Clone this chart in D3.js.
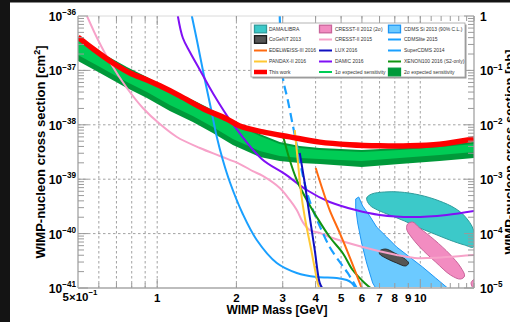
<!DOCTYPE html>
<html><head><meta charset="utf-8">
<script src="https://cdn.jsdelivr.net/npm/d3@7"></script>
<style>html,body{margin:0;padding:0;background:#fff;overflow:hidden}</style>
</head><body>
<svg id="c" width="510" height="322"></svg>
<script>
// ---------- DATA (mass in GeV, cross section in cm^2) ----------
const thisWorkMass = [0.50,0.570,0.679,0.788,0.914,1.024,1.219,1.491,1.839,2.061,2.519,3.190,4.146,5.391,7.006,9.108,11.84,16];
const thisWorkXsec = [4.1e-37,2.5e-37,1.37e-37,8.95e-38,6.67e-38,5.2e-38,3.4e-38,2.0e-38,1.28e-38,9.5e-39,7.4e-39,6.0e-39,4.8e-39,4.3e-39,4.1e-39,4.1e-39,4.4e-39,5.5e-39];

const bandMass = [0.5,0.606,0.767,0.914,1.117,1.366,1.627,1.939,2.454,2.923,3.482,4.146,5.985,8.345,11.84,16];
const band2Hi = [3.78e-37,2.18e-37,1.15e-37,7.56e-38,4.55e-38,2.86e-38,1.87e-38,1.17e-38,6.77e-39,4.83e-39,4.08e-39,3.75e-39,3.44e-39,3.75e-39,4.25e-39,4.83e-39];
const band1Hi = [3.47e-37,2.00e-37,1.06e-37,6.95e-38,4.18e-38,2.62e-38,1.72e-38,1.08e-38,6.22e-39,4.44e-39,3.75e-39,3.44e-39,3.16e-39,3.44e-39,3.91e-39,4.44e-39];
const band1Lo = [1.92e-37,1.15e-37,6.12e-38,4.01e-38,2.31e-38,1.45e-38,9.11e-39,5.48e-39,3.30e-39,2.67e-39,2.45e-39,2.35e-39,2.16e-39,2.45e-39,2.79e-39,3.16e-39];
const band2Lo = [1.49e-37,8.96e-38,4.75e-38,3.11e-38,1.79e-38,1.13e-38,7.07e-39,4.25e-39,2.56e-39,2.16e-39,1.99e-39,1.90e-39,1.68e-39,1.90e-39,2.16e-39,2.45e-39];

const cresst15Mass = [0.541,0.596,0.661,0.767,0.882,1.024,1.188,1.453,1.730,2.061,2.308,2.519,2.923,3.190,3.392,3.574,3.800,4.146,4.524,6.038,8.131,9.515,10.85,16];
const cresst15Xsec = [1e-36,3.62e-37,1.43e-37,4.75e-38,2.04e-38,1.03e-38,5.97e-39,3.75e-39,2.67e-39,1.90e-39,1.41e-39,1.15e-39,6.89e-40,4.15e-40,2.71e-40,1.63e-40,1.16e-40,1.03e-40,8.66e-41,5.67e-41,4.04e-41,3.56e-41,3.56e-41,4.04e-41];

const cdmsliteMass = [1.354,1.415,1.504,1.599,1.685,1.776,1.888,2.115,2.390,2.848,3.392,4.039,4.811,5.252,5.487,5.682];
const cdmsliteXsec = [1e-36,3.62e-37,8.23e-38,2.04e-38,5.97e-39,2.25e-39,8.88e-40,2.29e-40,7.63e-41,2.88e-41,1.89e-41,1.59e-41,1.53e-41,1.40e-41,1.24e-41,1e-41];

const superCdmsMass = [2.923,3.001,3.135,3.275,3.421,3.574,3.734,3.935,4.146,4.524,4.939,5.297,5.732];
const superCdmsXsec = [1e-36,7.56e-38,2.86e-38,9.92e-39,3.44e-39,1.195e-39,5.13e-40,2.49e-40,1.38e-40,5.67e-41,3.01e-41,1.89e-41,1e-41];

const damicMass = [1.198,1.252,1.331,1.453,1.627,1.939,2.497,3.053,3.701,4.524,5.682,7.006,9.350,12.59,16];
const damicXsec = [1e-36,3.94e-37,2.18e-37,1.02e-37,3.84e-38,1.03e-38,2.35e-39,1.25e-39,6.33e-40,3.81e-40,2.71e-40,2.20e-40,2.02e-40,2.20e-40,2.60e-40];

const luxMass = [3.482,3.637,3.800,3.970,4.146,4.239];
const luxXsec = [3.03e-39,8.51e-40,2.02e-40,4.99e-41,1.24e-41,1e-41];

const pandaxMass = [3.333,3.421,3.512,3.637,3.850,4.074,4.128];
const pandaxXsec = [8.02e-39,2.25e-39,6.33e-40,2.02e-40,4.99e-41,1.24e-41,1e-41];

const xenonMass = [3.001,3.190,3.392,3.701,4.039,4.524,5.070,5.534,6.144,6.477];
const xenonXsec = [6.49e-39,2.25e-39,9.67e-40,4.15e-40,2.02e-40,8.66e-41,4.40e-41,2.14e-41,1.24e-41,1e-41];

const edelweissMass = [4.004,4.257,4.524,4.939,5.391,5.884,5.985];
const edelweissXsec = [1.61e-39,6.33e-40,2.71e-40,1.03e-40,3.71e-41,1.24e-41,1e-41];

const damaMass = [6.254,6.534,7.318,8.345,9.938,11.84,13.50,14.73,15.94,15.94,14.73,12.92,11.33,9.938,8.717,7.646,6.885,6.421];
const damaXsec = [4.51e-40,5.34e-40,5.82e-40,5.82e-40,5.13e-40,3.97e-40,2.95e-40,2.11e-40,1.16e-40,5.67e-41,6.17e-41,7.63e-41,9.83e-41,1.27e-40,1.70e-40,2.20e-40,2.71e-40,3.35e-40];

const cdmsSiMass = [5.682,5.833,6.038,6.421,6.824,7.450,8.131,9.108,10.20,11.43,12.70,6.765,6.591,6.254,5.985,5.781,5.682];
const cdmsSiXsec = [4.33e-40,4.71e-40,3.22e-40,2.11e-40,1.32e-40,8.66e-41,5.67e-41,3.71e-41,2.43e-41,1.53e-41,1e-41,1e-41,1.24e-41,2.88e-41,6.72e-41,1.57e-40,2.95e-40];

const cresst12Mass = [8.950,9.350,9.938,11.33,12.92,14.22,14.73,14.22,13.03,11.43,10.03,9.188,8.872];
const cresst12Xsec = [1.50e-40,1.63e-40,1.27e-40,7.63e-41,4.22e-41,2.43e-41,1.66e-41,1.46e-41,1.73e-41,3.01e-41,5.44e-41,9.03e-41,1.22e-40];
const cresst12bMass = [15.6,16.4,18.0,16.4];
const cresst12bXsec = [1.25e-41,1.5e-41,1.1e-41,0.85e-41];

const cogentMass = [7.006,7.385,7.989,8.643,9.029,8.796,8.131,7.385,7.006];
const cogentXsec = [4.79e-41,5.21e-41,4.40e-41,3.56e-41,2.88e-41,2.54e-41,2.88e-41,3.56e-41,4.22e-41];

// ticks / labels
const xGrid = [0.6,0.7,0.8,0.9,1,2,3,4,5,6,7,8,9,10];
const xMinor = [0.6,0.7,0.8,0.9,2,3,4,5,6,7,8,9,11,12,13,14,15,16];
const xMajor = [1,10];
const xTickVals = [0.5,1,2,3,4,5,6,7,8,9,10];
const xTickLabels = ["5×10^−1","1","2","3","4","5","6","7","8","9","10"];
const yTickVals = [1e-36,1e-37,1e-38,1e-39,1e-40,1e-41];
const yTickLabels = ["10^−36","10^−37","10^−38","10^−39","10^−40","10^−41"];
const y2TickLabels = ["1","10^−1","10^−2","10^−3","10^−4","10^−5"];
const yGrid = [1e-37,1e-38,1e-39,1e-40];
const legendCols = [
  ["DAMA/LIBRA","CoGeNT 2013","EDELWEISS-III 2016","PANDAX-II 2016","This work"],
  ["CRESST-II 2012 (2σ)","CRESST-II 2015","LUX 2016","DAMIC 2016","1σ expected sensitivity"],
  ["CDMS Si 2013 (90% C.L.)","CDMSlite 2015","SuperCDMS 2014","XENON100 2016 (S2-only)","2σ expected sensitivity"]
];

// ---------- STYLES ----------
const C = {
  dama:"#3cc9c9", damaE:"#2f9c9c", cogent:"#555555", cogentE:"#1a1a1a",
  edel:"#ff6a10", pandax:"#ffc833", red:"#ff0000",
  cr12:"#f28cc1", cr12E:"#c9649a", cr15:"#f7a2c9", lux:"#1010c0", damic:"#8010f5",
  s1:"#00cc55", s2:"#00993a", cdmsSi:"#6ccaff", cdmsSiE:"#1e96f5", blue:"#1aa0ff", xenon:"#119411"
};
const legendStyle = {
  "DAMA/LIBRA":{t:"box",f:C.dama,s:C.damaE},
  "CoGeNT 2013":{t:"box",f:C.cogent,s:C.cogentE},
  "EDELWEISS-III 2016":{t:"line",s:C.edel,w:2},
  "PANDAX-II 2016":{t:"line",s:C.pandax,w:2},
  "This work":{t:"line",s:C.red,w:4.5},
  "CRESST-II 2012 (2σ)":{t:"box",f:C.cr12,s:C.cr12E},
  "CRESST-II 2015":{t:"line",s:C.cr15,w:2},
  "LUX 2016":{t:"line",s:C.lux,w:2},
  "DAMIC 2016":{t:"line",s:C.damic,w:2},
  "1σ expected sensitivity":{t:"line",s:C.s1,w:2},
  "CDMS Si 2013 (90% C.L.)":{t:"box",f:C.cdmsSi,s:C.cdmsSiE},
  "CDMSlite 2015":{t:"line",s:C.blue,w:2},
  "SuperCDMS 2014":{t:"line",s:C.blue,w:2},
  "XENON100 2016 (S2-only)":{t:"line",s:C.xenon,w:2},
  "2σ expected sensitivity":{t:"box",f:C.s2,s:C.s2}
};

const FONT = "'Liberation Sans', Arial, Helvetica, sans-serif";
const W=510,H=322, L=78,R=474,T=16,B=288;
const svg=d3.select('#c').attr('font-family',FONT);
const x=d3.scaleLog().domain([0.5,16]).range([L,R]);
const y=d3.scaleLog().domain([1e-41,1e-36]).range([B,T]);
const zip=(a,b)=>a.map((v,i)=>[v,b[i]]);

svg.append('rect').attr('width',W).attr('height',H).attr('fill','#fff');
svg.append('rect').attr('x',0).attr('y',0).attr('width',10).attr('height',H).attr('fill','#141414');
svg.append('rect').attr('x',0).attr('y',0).attr('width',W).attr('height',2.5).attr('fill','#141414');

svg.append('defs').append('clipPath').attr('id','clip').append('rect')
  .attr('x',L).attr('y',T).attr('width',R-L).attr('height',B-T);

// grid
const grid=svg.append('g').attr('stroke','#8a8a8a').attr('stroke-width',0.8).attr('stroke-dasharray','2.5,2.5');
xGrid.forEach(v=>grid.append('line').attr('x1',x(v)).attr('x2',x(v)).attr('y1',T).attr('y2',B));
yGrid.forEach(v=>grid.append('line').attr('y1',y(v)).attr('y2',y(v)).attr('x1',L).attr('x2',R));

const plot=svg.append('g').attr('clip-path','url(#clip)');

// bands
const area=(hi,lo)=>d3.area().x((d,i)=>x(bandMass[i])).y0((d,i)=>y(lo[i])).y1((d,i)=>y(hi[i]))(bandMass);
plot.append('path').attr('d',area(band2Hi,band2Lo)).attr('fill',C.s2);
plot.append('path').attr('d',area(band1Hi,band1Lo)).attr('fill',C.s1);

// regions
const poly=(m,s,curve)=>d3.line().x(d=>x(d[0])).y(d=>y(d[1])).curve(curve)(zip(m,s));
plot.append('path').attr('d',poly(damaMass,damaXsec,d3.curveCatmullRomClosed.alpha(0.5))).attr('fill',C.dama).attr('stroke',C.damaE).attr('stroke-width',1);
plot.append('path').attr('d',poly(cdmsSiMass,cdmsSiXsec,d3.curveLinearClosed)).attr('fill',C.cdmsSi).attr('stroke',C.cdmsSiE).attr('stroke-width',1);
plot.append('path').attr('d',poly(cresst12Mass,cresst12Xsec,d3.curveCatmullRomClosed.alpha(0.5))).attr('fill',C.cr12).attr('stroke',C.cr12E).attr('stroke-width',1);
plot.append('path').attr('d',poly(cresst12bMass,cresst12bXsec,d3.curveCatmullRomClosed.alpha(0.5))).attr('fill',C.cr12).attr('stroke',C.cr12E).attr('stroke-width',1);
plot.append('path').attr('d',poly(cogentMass,cogentXsec,d3.curveCatmullRomClosed.alpha(0.5))).attr('fill',C.cogent).attr('stroke',C.cogentE).attr('stroke-width',0.8);

// lines
const line=d3.line().x(d=>x(d[0])).y(d=>y(d[1])).curve(d3.curveCatmullRom.alpha(0.5));
function drawLine(m,s,color,w,dash){
  const p=plot.append('path').attr('d',line(zip(m,s))).attr('fill','none').attr('stroke',color).attr('stroke-width',w).attr('stroke-linejoin','round');
  if(dash) p.attr('stroke-dasharray',dash);
}
drawLine(cresst15Mass,cresst15Xsec,C.cr15,2);
drawLine(cdmsliteMass,cdmsliteXsec,C.blue,2);
drawLine(superCdmsMass,superCdmsXsec,C.blue,2.2,'9,5');
drawLine(damicMass,damicXsec,C.damic,2);
drawLine(xenonMass,xenonXsec,C.xenon,2);
drawLine(edelweissMass,edelweissXsec,C.edel,2);
drawLine(pandaxMass,pandaxXsec,C.pandax,2);
drawLine(luxMass,luxXsec,C.lux,2);
drawLine(thisWorkMass,thisWorkXsec,C.red,5.5);

// frame + ticks
const ax=svg.append('g').attr('stroke','#9a9a9a').attr('fill','none');
ax.append('line').attr('x1',L).attr('x2',L).attr('y1',T).attr('y2',B).attr('stroke-width',1.2);
ax.append('line').attr('x1',R).attr('x2',R).attr('y1',T).attr('y2',B).attr('stroke-width',1.2);
ax.append('line').attr('x1',L).attr('x2',R).attr('y1',B).attr('y2',B).attr('stroke-width',2).attr('stroke','#bdbdbd');
ax.append('line').attr('x1',L).attr('x2',R).attr('y1',T).attr('y2',T).attr('stroke-width',0.8).attr('stroke','#d0d0d0');
const yMinorVals=[];
yTickVals.slice(1).forEach(v=>{for(let k=2;k<=9;k++) yMinorVals.push(v*k);});
yTickVals.forEach(v=>{
  ax.append('line').attr('x1',L).attr('x2',L+10).attr('y1',y(v)).attr('y2',y(v));
  ax.append('line').attr('x1',R).attr('x2',R-10).attr('y1',y(v)).attr('y2',y(v));
});
yMinorVals.forEach(v=>{
  ax.append('line').attr('x1',L).attr('x2',L+6).attr('y1',y(v)).attr('y2',y(v));
  ax.append('line').attr('x1',R).attr('x2',R-6).attr('y1',y(v)).attr('y2',y(v));
});
xMinor.forEach(v=>{
  ax.append('line').attr('x1',x(v)).attr('x2',x(v)).attr('y1',B).attr('y2',B-5);
  ax.append('line').attr('x1',x(v)).attr('x2',x(v)).attr('y1',T).attr('y2',T+5);
});
xMajor.forEach(v=>{
  ax.append('line').attr('x1',x(v)).attr('x2',x(v)).attr('y1',B).attr('y2',B-9);
  ax.append('line').attr('x1',x(v)).attr('x2',x(v)).attr('y1',T).attr('y2',T+9);
});

// text helpers
function sup(t,label,fs){
  const parts=label.split('^');
  t.append('tspan').text(parts[0]);
  if(parts[1]) t.append('tspan').attr('font-size',fs*0.68).attr('dy',-fs*0.48).text(parts[1]);
}
const lab=svg.append('g').attr('font-weight','bold').attr('fill','#000');
yTickVals.forEach((v,i)=>{
  const t=lab.append('text').attr('x',L-2).attr('y',y(v)+5).attr('text-anchor','end').attr('font-size',12);
  sup(t,yTickLabels[i],12);
  const t2=lab.append('text').attr('x',R+6).attr('y',y(v)+5).attr('text-anchor','start').attr('font-size',12);
  sup(t2,y2TickLabels[i],12);
});
xTickVals.forEach((v,i)=>{
  const t=lab.append('text').attr('x',x(v)+(i===0?2:0)).attr('y',i===0?301:302).attr('text-anchor','middle').attr('font-size',11.5);
  sup(t,xTickLabels[i],11.5);
});
lab.append('text').attr('x',277).attr('y',314).attr('text-anchor','middle').attr('font-size',12).text('WIMP Mass [GeV]');
lab.append('text').attr('transform','translate(45,152) rotate(-90)').attr('text-anchor','middle').attr('font-size',13)
  .call(t=>{t.append('tspan').text('WIMP-nucleon cross section [cm');t.append('tspan').attr('font-size',9).attr('dy',-5).text('2');t.append('tspan').attr('dy',5).text(']');});
lab.append('text').attr('transform','translate(514,152) rotate(-90)').attr('text-anchor','middle').attr('font-size',13)
  .text('WIMP-nucleon cross section [pb]');

// legend
const lg=svg.append('g');
lg.append('rect').attr('x',252.5).attr('y',24.5).attr('width',214).attr('height',54).attr('fill','#9a9a9a');
lg.append('rect').attr('x',251).attr('y',23).attr('width',214).attr('height',54).attr('fill','#fff').attr('stroke','#a0a0a0').attr('stroke-width',0.8);
const colSym=[254,319,388], colTxt=[269,335,404], rowY=[29,39.5,50.5,61.5,72];
legendCols.forEach((col,ci)=>col.forEach((name,ri)=>{
  const st=legendStyle[name], cy=rowY[ri], x0=colSym[ci];
  if(st.t==='box') lg.append('rect').attr('x',x0+0.5).attr('y',cy-3.8).attr('width',12).attr('height',7.6).attr('fill',st.f).attr('stroke',st.s).attr('stroke-width',1.3);
  else lg.append('line').attr('x1',x0).attr('x2',x0+13).attr('y1',cy).attr('y2',cy).attr('stroke',st.s).attr('stroke-width',st.w);
  lg.append('text').attr('x',colTxt[ci]).attr('y',cy+1.8).attr('font-size',5.0).attr('fill','#333').text(name);
}));
</script></body></html>
